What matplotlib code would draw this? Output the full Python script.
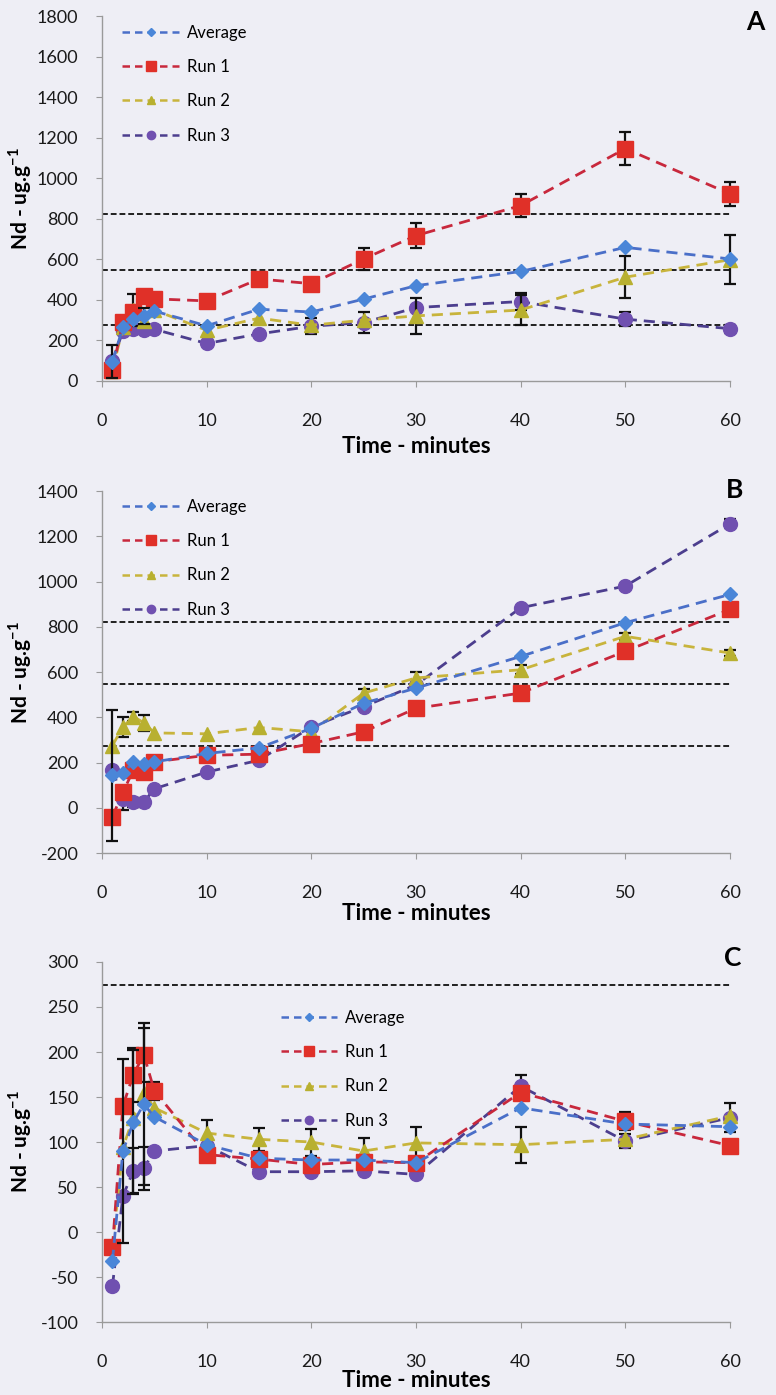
import matplotlib.pyplot as plt
from matplotlib.lines import Line2D
import numpy as np

plt.rcParams['font.family'] = ['Lato', 'DejaVu Sans']
plt.rcParams['mathtext.fontset'] = 'custom'
plt.rcParams['mathtext.rm'] = 'Lato'
plt.rcParams['mathtext.bf'] = 'Lato:bold'
plt.rcParams['axes.unicode_minus'] = False

time = [1, 2, 3, 4, 5, 10, 15, 20, 25, 30, 40, 50, 60]
labels = ['Average', 'Run 1', 'Run 2', 'Run 3']

# panel A
a_avg = [95, 265, 305, 320, 345, 272, 354, 340, 404, 470, 540, 659, 602]
a_run1 = [55, 290, 340, 420, 405, 395, 503, 480, 602, 717, 865, 1146, 923]
a_run2 = [50, 265, 350, 295, 350, 250, 310, 275, 300, 321, 350, 512, 598]
a_run3 = [100, 245, 256, 250, 255, 185, 232, 270, 288, 362, 392, 305, 258]
a_avg_err = [80, 0, 0, 40, 0, 0, 0, 0, 0, 0, 0, 0, 0]
a_run1_err = [0, 0, 0, 0, 0, 0, 15, 15, 55, 60, 55, 80, 60]
a_run2_err = [0, 0, 80, 0, 0, 0, 0, 0, 0, 90, 75, 105, 122]
a_run3_err = [0, 0, 0, 0, 0, 0, 0, 40, 50, 0, 40, 35, 20]

# panel B
b_avg = [143, 152, 203, 195, 203, 240, 265, 351, 462, 529, 669, 818, 943]
b_run1 = [-39, 69, 166, 158, 203, 232, 237, 284, 336, 440, 507, 692, 877]
b_run2 = [275, 358, 403, 376, 331, 327, 355, 336, 507, 574, 610, 758, 684]
b_run3 = [166, 40, 25, 25, 84, 158, 210, 358, 447, 543, 884, 980, 1255]
b_avg_err = [290, 0, 0, 0, 0, 0, 0, 0, 0, 0, 0, 0, 0]
b_run1_err = [0, 0, 0, 0, 0, 0, 0, 0, 0, 0, 0, 0, 0]
b_run2_err = [0, 45, 20, 35, 0, 0, 0, 0, 20, 25, 20, 15, 15]
b_run3_err = [0, 50, 20, 20, 0, 0, 0, 0, 0, 0, 0, 0, 20]

# panel C
c_avg = [-32, 90, 122, 142, 128, 97, 82, 80, 80, 77, 138, 120, 117]
c_run1 = [-17, 140, 175, 197, 157, 86, 81, 75, 78, 77, 155, 123, 96]
c_run2 = [-17, 94, 127, 155, 138, 110, 103, 100, 90, 99, 97, 103, 129]
c_run3 = [-60, 40, 68, 71, 90, 96, 67, 67, 68, 64, 162, 101, 127]
c_avg_err = [0, 102, 80, 90, 0, 0, 0, 0, 0, 0, 0, 0, 0]
c_run1_err = [0, 0, 30, 30, 10, 0, 0, 0, 0, 0, 0, 10, 0]
c_run2_err = [0, 0, 0, 0, 0, 15, 13, 15, 14, 18, 20, 0, 0]
c_run3_err = [0, 0, 25, 24, 0, 0, 0, 0, 0, 0, 12, 8, 16]

limits = [274, 548, 822]  # dotted guide levels

line_colors = ['#4a6fc8', '#c8283c', '#c8b43c', '#4c3e8e']
face_colors = ['#4a86d8', '#e03028', '#b8b030', '#7050b0']
markers = ['D', 's', '^', 'o']
msizes = [7, 11, 10, 10]

panels = [
    dict(series=[a_avg, a_run1, a_run2, a_run3],
         errs=[a_avg_err, a_run1_err, a_run2_err, a_run3_err],
         ylim=(0, 1800), step=200, letter='A', letter_xy=(1.04, 0.984),
         rect=[0.1314, 0.7269, 0.8093, 0.2616], leg=(0.022, 0.995),
         xlab_y=-0.15),
    dict(series=[b_avg, b_run1, b_run2, b_run3],
         errs=[b_avg_err, b_run1_err, b_run2_err, b_run3_err],
         ylim=(-200, 1400), step=200, letter='B', letter_xy=(1.008, 1.003),
         rect=[0.1314, 0.3885, 0.8093, 0.2595], leg=(0.022, 0.997),
         xlab_y=-0.138),
    dict(series=[c_avg, c_run1, c_run2, c_run3],
         errs=[c_avg_err, c_run1_err, c_run2_err, c_run3_err],
         ylim=(-100, 300), step=50, letter='C', letter_xy=(1.005, 1.011),
         rect=[0.1314, 0.0523, 0.8093, 0.2581], leg=(0.274, 0.886),
         xlab_y=-0.132),
]

fig = plt.figure(figsize=(7.76, 13.95), dpi=100)
fig.patch.set_facecolor('#eeeef5')

for p in panels:
    ax = fig.add_axes(p['rect'])
    ax.set_facecolor('none')
    ax.set_xlim(0, 60)
    ax.set_ylim(*p['ylim'])
    ax.set_yticks(np.arange(p['ylim'][0], p['ylim'][1] + 1, p['step']))
    ax.set_xticks(range(0, 61, 10))

    for lv in limits:
        if lv < p['ylim'][1]:
            ax.axhline(lv, color='#202020', lw=1.4, ls=(0, (3, 1.5)), zorder=1)

    # runs drawn last-to-first so Run 3 sits under the others
    for k in [3, 2, 1, 0]:
        vals = np.array(p['series'][k], dtype=float)
        err = np.array(p['errs'][k], dtype=float)
        cont = ax.errorbar(time, vals, yerr=np.where(err > 0, err, np.nan),
                           color=line_colors[k], ls=(0, (4, 2.5)), lw=2,
                           marker=markers[k], ms=msizes[k],
                           mfc=face_colors[k], mec=face_colors[k],
                           ecolor='#111111', elinewidth=1.6, capsize=4,
                           capthick=1.6, zorder=3 + (3 - k))
        for art in cont.get_children():
            art.set_clip_on(False)

    handles = [Line2D([], [], color=line_colors[k], ls=(0, (3, 2)), lw=1.8,
                      marker=markers[k], ms=msizes[k] * 0.6,
                      mfc=face_colors[k], mec=face_colors[k])
               for k in range(4)]
    ax.legend(handles, labels, loc='upper left', bbox_to_anchor=p['leg'],
              borderaxespad=0, frameon=False, fontsize=12,
              labelspacing=1.1, handlelength=3.4, handletextpad=0.45)

    for s in ['top', 'right']:
        ax.spines[s].set_visible(False)
    for s in ['left', 'bottom']:
        ax.spines[s].set_color('#9a9a9a')
        ax.spines[s].set_linewidth(1.0)
    ax.tick_params(axis='y', length=4, color='#9a9a9a', labelsize=13,
                   pad=13, labelcolor='#1a1a1a')
    ax.tick_params(axis='x', length=4, color='#9a9a9a', labelsize=13,
                   pad=19, labelcolor='#1a1a1a')
    ax.set_xlabel('Time - minutes', fontsize=16, fontweight='bold')
    ax.xaxis.set_label_coords(0.5, p['xlab_y'])
    ax.set_ylabel(r'Nd - ug.g$^{\mathbf{-1}}$', fontsize=15,
                  fontweight='bold')
    ax.yaxis.set_label_coords(-0.108, 0.5)
    ax.text(p['letter_xy'][0], p['letter_xy'][1], p['letter'],
            transform=ax.transAxes, fontsize=19, fontweight='bold',
            ha='center', va='center')

fig.savefig('out.png', dpi=100, facecolor=fig.get_facecolor())
